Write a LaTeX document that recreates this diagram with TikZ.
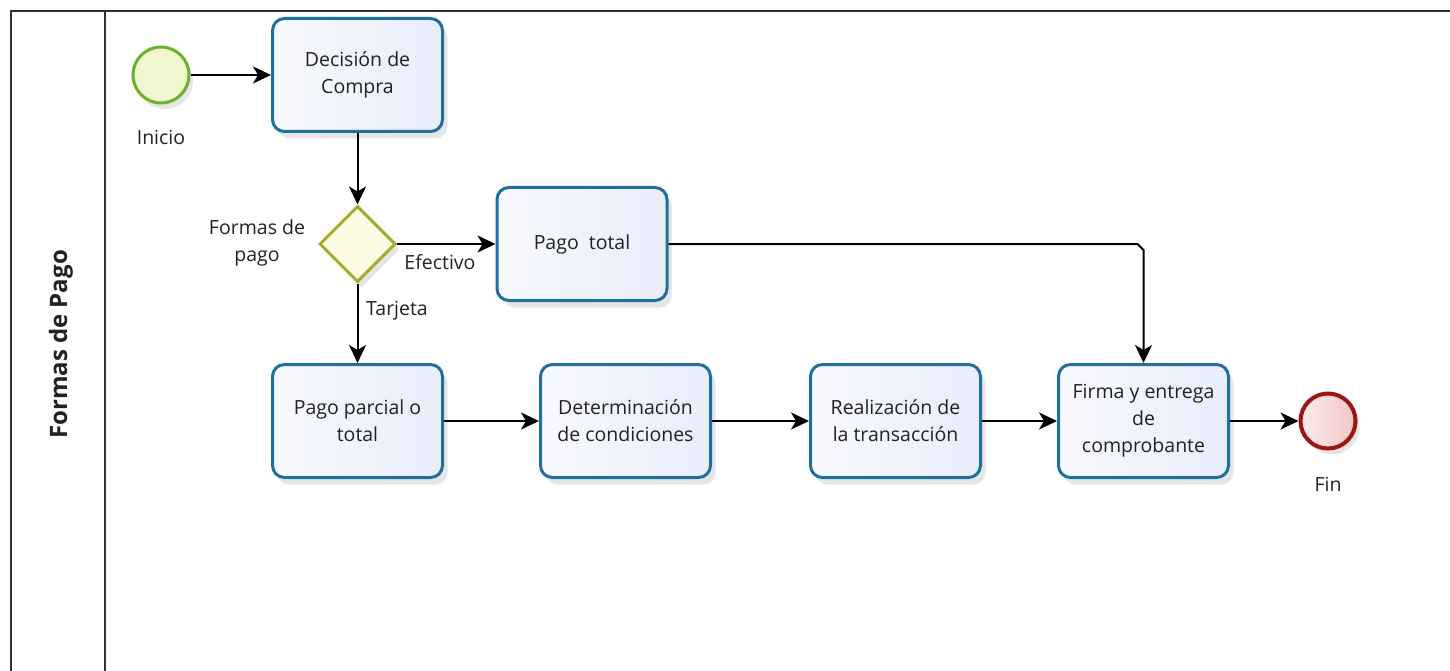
\documentclass[tikz,border=0pt]{standalone}
\usepackage{fontspec}
\setmainfont{Open Sans}
\usetikzlibrary{arrows.meta,shapes.geometric,shadows}
\definecolor{taskblue}{HTML}{1F6F9F}
\definecolor{taskfillA}{HTML}{F8F9FE}
\definecolor{taskfillB}{HTML}{E9EDFB}
\definecolor{startgreen}{HTML}{6CB02C}
\definecolor{startfill}{HTML}{F0F7CF}
\definecolor{endred}{HTML}{A01414}
\definecolor{endfill}{HTML}{F2C6C6}
\definecolor{endfillA}{HTML}{FBEBEB}
\definecolor{gwborder}{HTML}{A8A82C}
\definecolor{gwfill}{HTML}{FCFCE4}
\definecolor{txt}{HTML}{222222}
\definecolor{pool}{HTML}{333333}
\begin{document}
\begin{tikzpicture}[x=1pt,y=-1pt,
  txtfont/.style={font=\fontsize{19.5}{27}\selectfont, text=txt},
  task/.style={draw=taskblue, line width=3pt, rounded corners=12pt, left color=taskfillA, right color=taskfillB,
    minimum width=170pt, minimum height=113pt, align=center, txtfont,
    drop shadow={opacity=0.2, shadow xshift=5pt, shadow yshift=-7pt}},
  evstart/.style={circle, draw=startgreen, line width=3pt, fill=startfill, minimum size=56pt, inner sep=0pt,
    drop shadow={opacity=0.2, shadow xshift=4pt, shadow yshift=-6pt}},
  evend/.style={circle, draw=endred, line width=4pt, left color=endfillA, right color=endfill, minimum size=55pt, inner sep=0pt,
    drop shadow={opacity=0.2, shadow xshift=4pt, shadow yshift=-6pt}},
  gw/.style={diamond, draw=gwborder, line width=3pt, fill=gwfill, minimum width=76pt, minimum height=76pt, inner sep=0pt,
    drop shadow={opacity=0.2, shadow xshift=4pt, shadow yshift=-6pt}},
  lbl/.style={txtfont, align=center, inner sep=1pt},
  flow/.style={draw=black, line width=2pt, -{Stealth[length=18pt,width=17pt,inset=5pt]}},
]
\useasboundingbox (0,0) rectangle (1450,671);
\fill[white] (0,0) rectangle (1450,671);
% pool
\draw[pool, line width=2.6pt] (11,671) -- (11,11) -- (1450,11);
\draw[pool, line width=2.6pt] (105,11) -- (105,671);
\node[rotate=90, font=\fontsize{24}{28}\selectfont\bfseries, text=txt] (lane) at (61,344.5) {Formas de Pago};

% nodes
\node[evstart] (start) at (161,75) {};
\node[lbl] (inicio) at (161,137) {Inicio};
\node[task] (dec) at (357.5,75) {Decisión de\\Compra};
\node[gw] (gate) at (357.5,244) {};
\node[lbl] (formas) at (257,243) {Formas de\\pago};
\node[task] (pt) at (582,244) {Pago\ \ total};
\node[task] (pp) at (357.5,421) {Pago parcial o\\total};
\node[task] (det) at (625.5,421) {Determinación\\de condiciones};
\node[task] (real) at (895.5,421) {Realización de\\la transacción};
\node[task] (firma) at (1143.5,421) {Firma y entrega\\de\\comprobante};
\node[evend] (fin) at (1328,421) {};
\node[lbl] (finl) at (1328,484) {Fin};
\node[lbl] (efect) at (440,262) {Efectivo};
\node[lbl] (tarj) at (397,311) {Tarjeta};

% bend coordinates
\coordinate (b1) at (1137.5,244);
\coordinate (b2) at (1143.5,250);

% flows
\draw[flow] (start) -- (dec);
\draw[flow] (dec) -- (gate);
\draw[flow] (gate) -- (pt);
\draw[flow] (gate) -- (pp);
\draw[flow] (pt.east) -- (b1) -- (b2) -- (firma.north);
\draw[flow] (pp) -- (det);
\draw[flow] (det) -- (real);
\draw[flow] (real) -- (firma);
\draw[flow] (firma) -- (fin);
\end{tikzpicture}
\end{document}
